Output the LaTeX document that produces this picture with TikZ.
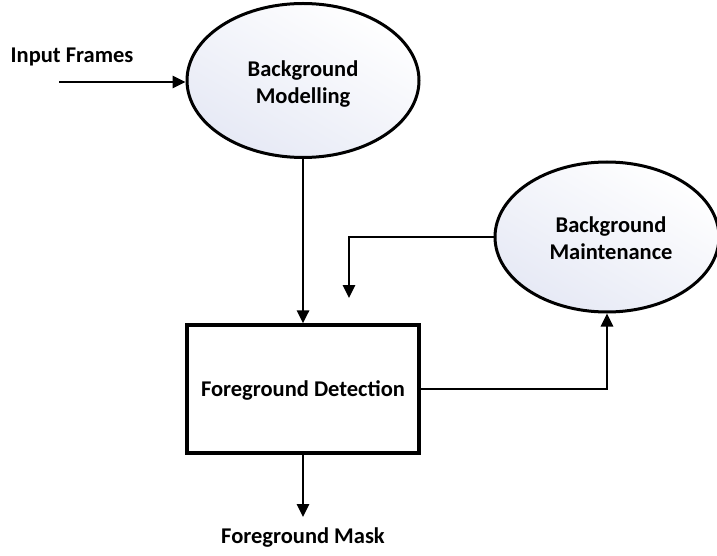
\documentclass[tikz,border=0pt]{standalone}
\usepackage{fontspec}
\setmainfont{Carlito}
\usetikzlibrary{arrows.meta,shapes.geometric,calc}
\definecolor{ellfill}{HTML}{E6E9F5}
\begin{document}
\begin{tikzpicture}[x=1pt,y=-1pt,
  lbl/.style={font=\fontsize{22.5}{27}\selectfont\bfseries, align=center, inner sep=0pt},
  ell/.style={ellipse, draw, line width=3pt, top color=white, bottom color=ellfill, shading angle=-30, inner sep=0pt},
  box/.style={rectangle, draw, line width=3.2pt, fill=white, inner sep=0pt},
  conn/.style={line width=2.8pt, -{Triangle[length=13pt,width=12pt]}}]
\useasboundingbox (0,0) rectangle (717,556);
\begin{scope}
\clip (0,0) rectangle (717,556);
\node[ell, minimum width=232pt, minimum height=154pt] (bm) at (303,80.5) {};
\node[ell, minimum width=224pt, minimum height=150pt] (bmt) at (607,237) {};
\end{scope}
\node[lbl] at (303,84) {Background\\Modelling};
\node[lbl] at (611,238) {Background\\Maintenance};
\node[box, minimum width=232pt, minimum height=128pt] (fd) at (303,389) {};
\node[lbl] at (303,390) {Foreground Detection};
\node[lbl] (in) at (72,57) {Input Frames};
\node[lbl] (fm) at (303,538) {Foreground Mask};
\coordinate (instart) at (59,82);
\coordinate (fbtip) at (349,298);
\coordinate (fmtip) at (303,517);
\draw[conn] (instart) -- (instart -| bm.west);
\draw[conn] (bm.south) -- (fd.north);
\draw[conn] (bmt.west) -| (fbtip);
\draw[conn] (fd.east) -| (bmt.south);
\draw[conn] (fd.south) -- (fmtip);
\end{tikzpicture}
\end{document}
